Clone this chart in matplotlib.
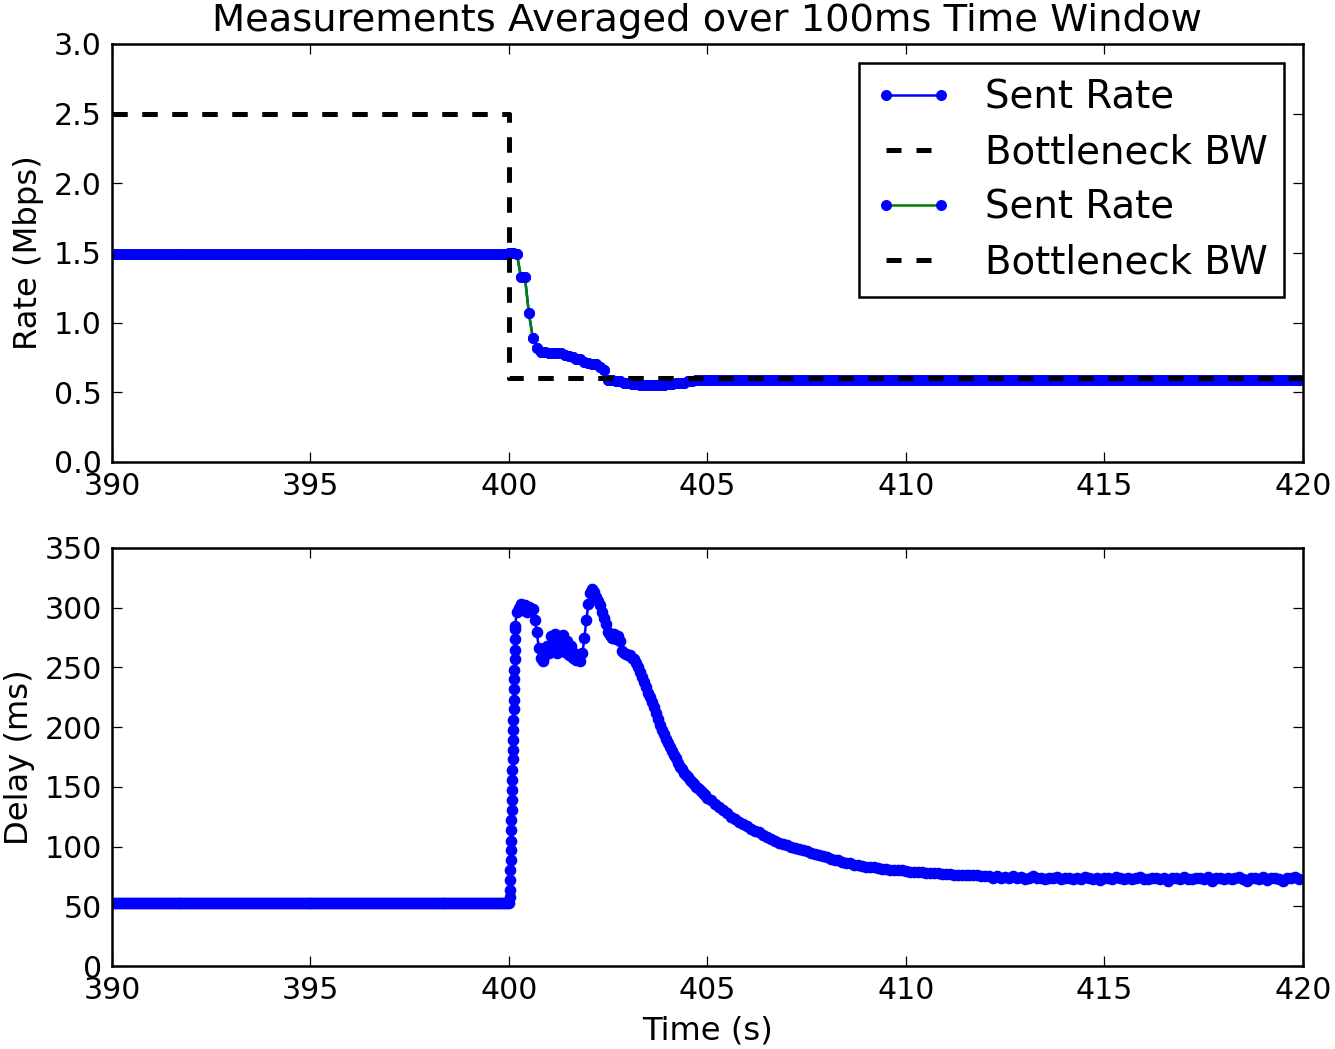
"""
Sent rate / bottleneck bandwidth and one-way delay around a bandwidth drop
at t = 400 s, both averaged over a 100 ms window.
"""

import matplotlib

matplotlib.use("Agg")
import matplotlib.pyplot as plt
import numpy as np

# ---- rate panel (Mbps), sampled every 0.1 s from 390.0 s ----
RATE_START = 390.0
RATE_STEP = 0.1
rate_before = [1.49] * 100  # 390.0 .. 399.9
rate_drop = [  # 400.0 .. 405.0
    1.50, 1.50, 1.49, 1.33, 1.33, 1.07, 0.89, 0.82, 0.79, 0.79,
    0.78, 0.78, 0.78, 0.78, 0.77, 0.76, 0.75, 0.74, 0.74, 0.72,
    0.71, 0.70, 0.70, 0.68, 0.66, 0.59, 0.59, 0.58, 0.58, 0.57,
    0.57, 0.56, 0.56, 0.55, 0.55, 0.55, 0.55, 0.55, 0.55, 0.55,
    0.56, 0.56, 0.57, 0.57, 0.57, 0.58, 0.58, 0.59, 0.59, 0.59,
    0.59,
]
rate_after = [0.59] * 150  # 405.1 .. 420.0

bw_time = [390.0, 400.0, 420.0]
bw_mbps = [2.5, 0.6, 0.6]

# ---- delay panel (ms) ----
DELAY_STEP = 0.05
delay_base = [52.5] * 201  # 390.00 .. 400.00
rise_time = [
    400.02, 400.025, 400.03, 400.035, 400.04, 400.045, 400.05, 400.055,
    400.06, 400.065, 400.07, 400.075, 400.08, 400.085, 400.09, 400.095,
    400.10, 400.105, 400.11, 400.115, 400.12, 400.125, 400.13, 400.135,
    400.14, 400.14, 400.145, 400.15,
]
rise_ms = [
    58, 64, 72, 80, 89, 97, 105, 114, 122, 131, 139, 147, 156, 164,
    173, 181, 189, 198, 206, 215, 223, 232, 240, 248, 257, 265, 274, 282,
]
delay_peak = [  # 400.15 .. 405.00, every 0.05 s
    285, 296, 300, 303, 298, 302, 296, 301, 297, 299,
    290, 280, 266, 258, 255, 260, 268, 262, 276, 265,
    278, 262, 276, 268, 277, 263, 272, 260, 268, 258,
    262, 256, 258, 255, 262, 275, 290, 303, 312, 316,
    313, 309, 306, 302, 296, 291, 286, 280, 277, 275,
    278, 274, 276, 272, 264, 262, 261, 260, 260, 258,
    257, 254, 250, 246, 242, 238, 234, 229, 225, 221,
    217, 212, 207, 202, 198, 194, 190, 187, 183, 180,
    177, 174, 170, 167, 165, 162, 160, 158, 156, 154,
    152, 150, 149, 147, 146, 144, 143, 141,
]
delay_decay = [  # 405.1 .. 412.0, every 0.1 s
    139, 136, 133, 131, 128, 125, 123, 121, 119, 117,
    115, 113, 112, 110, 108, 106, 105, 103, 102, 101,
    100, 99, 98, 97, 96, 95, 94, 93, 92, 91,
    90, 89, 88.5, 87, 86, 86, 85, 84.5, 84, 83,
    83, 82.5, 82, 81.5, 81, 80.5, 80.5, 80, 80, 79.5,
    79, 79, 78.5, 78.5, 78, 78, 77.5, 77.5, 77, 77,
    77, 76.5, 76.5, 76.5, 76, 76, 76, 76, 75.5, 75.5,
]
delay_tail = [  # 412.1 .. 420.0, every 0.1 s
    75, 74, 75.5, 74, 74.5, 73.5, 75, 74, 74.5, 73,
    74, 75, 73.5, 74, 72.5, 74, 73.5, 74.5, 73, 74,
    73.5, 72.5, 74, 73, 74.5, 73.5, 73, 74, 72, 73.5,
    74, 73, 74.5, 73.5, 72.5, 74, 73, 73.5, 74.5, 73,
    72.5, 74, 73.5, 73, 74, 71.5, 73.5, 74, 73, 74.5,
    73, 72.5, 74, 73.5, 73, 74.5, 71.5, 73.5, 74, 73,
    74, 72.5, 73.5, 74.5, 73, 71.5, 74, 73.5, 73, 74.5,
    72, 73.5, 74, 73, 71.5, 74, 73.5, 74.5, 73,
]

TITLE = "Measurements Averaged over 100ms Time Window"

plt.rcParams.update({
    "font.family": ["DejaVu Sans"],
    "font.size": 12,
    "lines.scale_dashes": False,
    "axes.linewidth": 1.0,
    "xtick.direction": "in",
    "ytick.direction": "in",
    "xtick.top": True,
    "ytick.right": True,
    "xtick.major.size": 4,
    "ytick.major.size": 4,
    "xtick.major.width": 0.5,
    "ytick.major.width": 0.5,
    "xtick.major.pad": 4,
    "ytick.major.pad": 4,
})

rate = np.array(rate_before + rate_drop + rate_after)
rate_t = RATE_START + RATE_STEP * np.arange(len(rate))

base_t = RATE_START + DELAY_STEP * np.arange(len(delay_base))
peak_t = 400.15 + DELAY_STEP * np.arange(len(delay_peak))
decay_t = 405.1 + 0.1 * np.arange(len(delay_decay))
tail_t = 412.1 + 0.1 * np.arange(len(delay_tail))
delay_t = np.concatenate([base_t, rise_time, peak_t, decay_t, tail_t])
delay = np.concatenate([delay_base, rise_ms, delay_peak, delay_decay, delay_tail])

dot = dict(marker=".", markersize=7, markeredgewidth=0.9,
           markerfacecolor="b", markeredgecolor="b", linewidth=1.0)
dash = dict(color="k", linestyle="--", dashes=(6, 6), linewidth=2.0,
            drawstyle="steps-post")

fig = plt.figure(figsize=(1335 / 180, 1049 / 180), dpi=180, facecolor="white")
ax1 = fig.add_axes([0.0839, 0.5596, 0.8921, 0.3985])
ax2 = fig.add_axes([0.0839, 0.0791, 0.8921, 0.3985])

# the script plotted the flow twice, hence the doubled legend
ax1.plot(rate_t, rate, color="b", label="Sent Rate", **dot)
ax1.plot(bw_time, bw_mbps, label="Bottleneck BW", **dash)
ax1.plot(rate_t, rate, color="g", label="Sent Rate", **dot)
ax1.plot(bw_time, bw_mbps, label="Bottleneck BW", **dash)

ax1.set_xlim(390, 420)
ax1.set_ylim(0, 3.0)
ax1.set_yticks(np.arange(0, 3.01, 0.5))
ax1.set_yticklabels([f"{v:.1f}" for v in np.arange(0, 3.01, 0.5)])
ax1.set_xticks(np.arange(390, 421, 5))
ax1.set_ylabel("Rate (Mbps)", fontsize=12.9)
ax1.set_title(TITLE, fontsize=15.4, pad=5)
leg = ax1.legend(loc="upper right", numpoints=2, fancybox=False, framealpha=1,
                 edgecolor="k", fontsize=15.5, borderpad=0.4, handlelength=2.0,
                 handletextpad=0.85, labelspacing=0.44, borderaxespad=0.5)
leg.get_frame().set_linewidth(1.0)

ax2.plot(delay_t, delay, color="b", **dict(dot, markersize=7.5))
ax2.set_xlim(390, 420)
ax2.set_ylim(0, 350)
ax2.set_yticks(np.arange(0, 351, 50))
ax2.set_xticks(np.arange(390, 421, 5))
ax2.set_xlabel("Time (s)", fontsize=12.9)
ax2.set_ylabel("Delay (ms)", fontsize=12.9)

fig.savefig("out.png", dpi=180, facecolor="white")
print("wrote out.png")
